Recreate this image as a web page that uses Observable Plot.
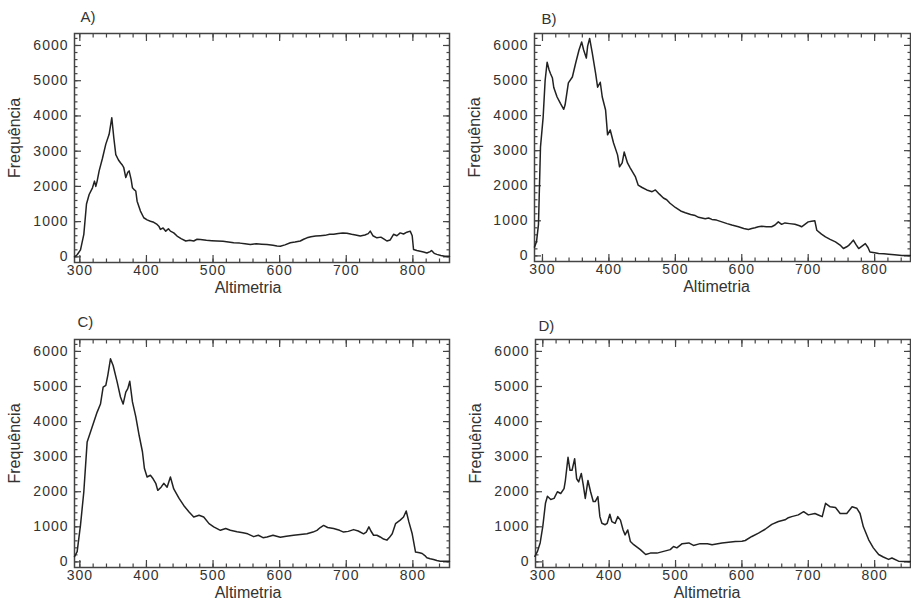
<!DOCTYPE html>
<html><head><meta charset="utf-8">
<script src="https://cdn.jsdelivr.net/npm/d3@7"></script>
<script src="https://cdn.jsdelivr.net/npm/@observablehq/plot@0.6"></script>
<style>
body{margin:0;background:#fff;}
#wrap{position:relative;width:911px;height:601px;overflow:hidden;background:#fff;}
#wrap > .panel{position:absolute;}
</style></head><body><div id="wrap"></div>
<script>
// Panel A
const altA = [292,296,301,306,310,314,319,322,324,326,329,334,339,344,348,351,354,358,361,364,366,369,372,374,377,379,382,384,386,391,396,401,406,411,416,419,421,425,429,433,436,441,446,452,459,465,471,476,481,490,498,506,515,523,531,540,548,556,565,573,581,590,596,601,608,616,623,631,636,641,647,654,661,668,675,681,688,695,701,708,714,721,728,733,736,740,746,752,758,761,766,771,776,781,786,791,796,799,801,806,811,816,821,826,828,832,836,842,848,855];
const freqA = [0,60,200,640,1500,1770,1960,2150,2000,2150,2440,2800,3200,3480,3950,3380,2900,2750,2670,2600,2530,2250,2400,2440,2200,1960,1900,1870,1580,1300,1110,1050,1010,980,920,860,780,820,730,800,730,680,590,520,450,470,450,500,490,470,460,450,440,420,400,390,370,350,370,360,350,330,310,300,340,400,420,450,500,540,570,590,600,610,640,640,660,680,670,640,620,590,620,660,730,600,540,560,490,450,480,640,600,680,650,700,730,600,210,180,160,140,110,150,180,100,70,40,20,20];
// Panel B
const altB = [288,291,294,297,301,304,307,310,312,315,317,322,327,332,334,339,345,350,355,359,362,366,368,371,375,380,383,387,390,395,398,402,407,413,416,420,423,428,432,440,444,450,457,465,470,476,482,487,492,500,508,515,523,530,535,545,550,555,562,570,578,585,595,603,610,615,620,625,630,637,645,650,655,660,665,672,680,687,690,695,700,705,710,713,720,726,733,741,748,753,758,761,765,768,772,776,781,786,790,793,800,806,814,821,830,841,854];
const freqB = [250,400,900,3100,3950,5000,5520,5300,5200,5070,4800,4530,4350,4180,4300,4930,5100,5500,5870,6100,5870,5640,5980,6200,5780,5200,4810,4950,4530,4160,3450,3590,3220,2880,2540,2650,2960,2650,2510,2250,2020,1950,1880,1830,1880,1760,1650,1600,1500,1380,1280,1230,1180,1150,1100,1060,1080,1040,1020,970,920,880,830,780,750,780,800,830,845,830,830,880,970,900,940,920,900,860,830,900,970,990,1000,730,620,540,470,400,310,210,260,300,380,450,320,210,280,350,240,110,90,70,60,50,30,10,10];
// Panel C
const altC = [292,296,301,306,311,316,321,326,331,335,339,342,346,350,356,361,365,369,372,375,379,384,389,394,397,401,406,410,414,417,422,426,431,436,441,449,456,464,471,479,486,494,501,511,519,526,536,545,552,561,568,575,581,590,601,610,621,631,641,650,656,661,666,672,681,690,696,703,711,718,726,730,734,737,741,746,751,756,761,765,769,774,781,786,790,794,799,804,810,814,818,821,826,831,836,841,855];
const freqC = [150,290,1050,2000,3420,3700,3990,4270,4500,4980,5030,5320,5790,5600,5130,4700,4500,4840,4940,5150,4560,4140,3610,3140,2660,2420,2470,2370,2240,2040,2130,2240,2130,2420,2080,1810,1610,1420,1280,1330,1280,1090,1000,900,950,900,860,830,800,720,760,690,710,760,700,730,760,780,800,850,900,980,1040,980,950,900,850,870,920,880,800,850,1000,880,760,760,710,650,620,700,800,1090,1190,1280,1450,1140,800,280,260,240,180,120,90,70,40,20,20];
// Panel D
const altD = [288,292,296,300,304,307,312,317,322,327,332,334,338,341,344,348,351,354,358,361,364,368,372,376,379,383,386,389,394,397,401,404,409,413,417,421,424,428,432,437,442,447,455,462,472,482,492,497,502,510,520,527,537,548,555,570,580,590,600,605,615,625,635,645,655,665,670,675,685,693,700,710,716,721,726,733,741,748,758,766,773,778,783,791,798,806,813,821,826,836,845,854];
const freqD = [160,300,540,1010,1670,1870,1780,1810,2000,1950,2090,2320,2980,2610,2610,2940,2370,2280,2520,2190,1810,2320,2000,1720,1720,1860,1290,1100,1060,1100,1360,1150,1100,1290,1190,910,770,910,580,490,420,350,210,250,250,300,350,440,400,520,540,470,520,520,490,540,560,580,590,610,725,820,930,1070,1150,1200,1260,1290,1340,1430,1340,1380,1330,1290,1670,1570,1550,1380,1380,1570,1530,1380,1000,630,400,210,140,70,110,20,10,10];

const panelNames = ["A)", "B)", "C)", "D)"];
const xTitle = "Altimetria";
const yTitle = "Frequência";
const xMajor = [300, 400, 500, 600, 700, 800];
const yMajor = [0, 1000, 2000, 3000, 4000, 5000, 6000];
const xMinor = d3.range(300, 860, 20);
const yMinor = d3.range(0, 6300, 200);

const panels = [
  {name: panelNames[0], alt: altA, freq: freqA, left: 0, top: 0, width: 455, height: 300, mL: 74, mR: 6, mT: 33, mB: 38, xDom: [292, 855], ldx: 6, ldy: -22, tdx: -14},
  {name: panelNames[1], alt: altB, freq: freqB, left: 455, top: 0, width: 456, height: 300, mL: 79, mR: 1, mT: 33, mB: 39, xDom: [288, 854], ldx: 7, ldy: -20, tdx: -6},
  {name: panelNames[2], alt: altC, freq: freqC, left: 0, top: 300, width: 455, height: 301, mL: 74, mR: 6, mT: 39, mB: 34, xDom: [292, 855], ldx: 3, ldy: -23, tdx: -14},
  {name: panelNames[3], alt: altD, freq: freqD, left: 455, top: 300, width: 456, height: 301, mL: 80, mR: 1, mT: 39, mB: 34, xDom: [289, 854], ldx: 3, ldy: -19, tdx: -16}
];

const ink = "#333";
const tickInk = "#444";
const wrap = document.getElementById("wrap");
for (const p of panels) {
  const data = p.alt.map((a, i) => ({alt: a, freq: p.freq[i]}));
  const tk = {fill: "none", label: null, stroke: tickInk, strokeWidth: 1.2};
  const chart = Plot.plot({
    width: p.width, height: p.height,
    marginLeft: p.mL, marginRight: p.mR, marginTop: p.mT, marginBottom: p.mB,
    x: {domain: p.xDom},
    y: {domain: [-160, 6340]},
    style: {fontFamily: "'Liberation Sans', Arial, sans-serif", fontSize: "14px", color: ink, background: "transparent", overflow: "visible"},
    marks: [
      Plot.axisX({anchor: "bottom", ticks: xMajor, tickSize: -7, ...tk}),
      Plot.axisX({anchor: "bottom", ticks: xMinor, tickSize: -3.5, ...tk}),
      Plot.axisX({anchor: "top", ticks: xMajor, tickSize: -7, ...tk}),
      Plot.axisX({anchor: "top", ticks: xMinor, tickSize: -3.5, ...tk}),
      Plot.axisY({anchor: "left", ticks: yMajor, tickSize: -7, ...tk}),
      Plot.axisY({anchor: "left", ticks: yMinor, tickSize: -3.5, ...tk}),
      Plot.axisY({anchor: "right", ticks: yMajor, tickSize: -7, ...tk}),
      Plot.axisY({anchor: "right", ticks: yMinor, tickSize: -3.5, ...tk}),
      Plot.axisX({anchor: "bottom", ticks: xMajor, tickSize: 0, tickPadding: 3, tickFormat: "d", label: null, fontSize: 14, style: {letterSpacing: "1px"}}),
      Plot.axisY({anchor: "left", ticks: yMajor, tickSize: 0, tickPadding: 6, tickFormat: "d", label: null, fontSize: 14, style: {letterSpacing: "1px"}}),
      Plot.text([xTitle], {text: d => d, frameAnchor: "bottom", lineAnchor: "middle", textAnchor: "middle", dx: p.tdx, dy: 25.5, fontSize: 16, fill: ink}),
      Plot.text([yTitle], {text: d => d, frameAnchor: "left", lineAnchor: "middle", textAnchor: "middle", rotate: -90, dx: -60, dy: -10, fontSize: 16, fill: ink}),
      Plot.frame({stroke: "#444", strokeWidth: 1.5}),
      Plot.line(data, {x: "alt", y: "freq", stroke: "#222", strokeWidth: 1.5}),
      Plot.text([p.name], {text: d => d, frameAnchor: "top-left", dx: p.ldx, dy: p.ldy, fontSize: 15, fill: ink})
    ]
  });
  chart.querySelectorAll('g[aria-label="x-axis tick label"], g[aria-label="y-axis tick label"]').forEach(g => g.style.letterSpacing = "1px");
  chart.classList.add("panel");
  chart.style.left = p.left + "px";
  chart.style.top = p.top + "px";
  wrap.appendChild(chart);
}
</script>
</body></html>
